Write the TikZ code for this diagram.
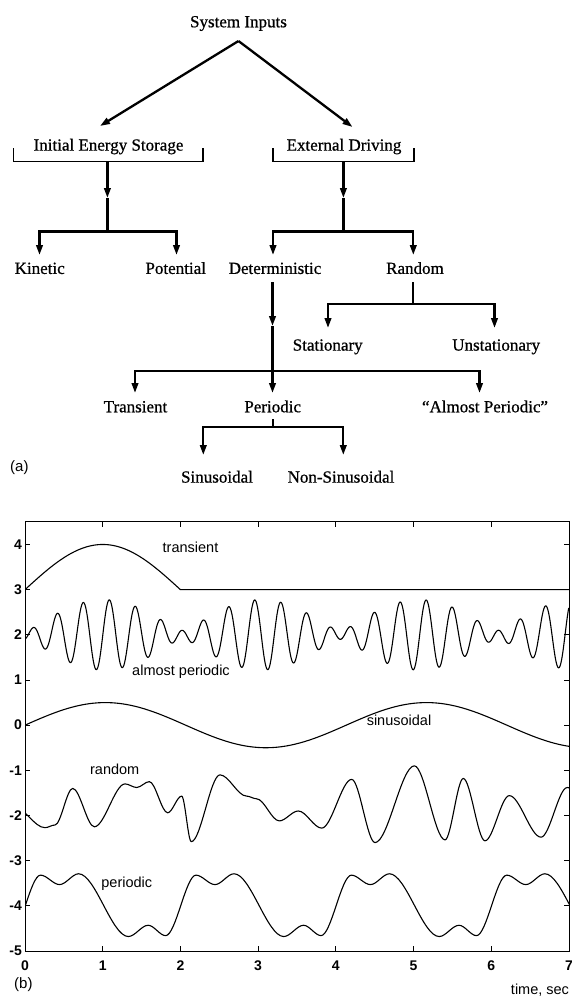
\documentclass[tikz,border=0pt]{standalone}
\usepackage{fontspec}
\setmainfont{Liberation Serif}
\setsansfont{Liberation Sans}
\newfontfamily\treefont{Liberation Serif}[FakeBold=0.7]
\usetikzlibrary{arrows.meta}

\begin{document}
\begin{tikzpicture}[x=1pt,y=-1pt,
  lbl/.style={font=\treefont\fontsize{17}{20}\selectfont, inner sep=0pt, anchor=base},
  conn/.style={line width=2.3pt},
  arr/.style={conn, -{Triangle[length=10pt,width=6.5pt]}},
  brk/.style={line width=1.2pt},
  curvelbl/.style={font=\sffamily\fontsize{14.5}{17}\selectfont, inner sep=0pt, anchor=base},
  panel/.style={font=\sffamily\fontsize{15}{18}\selectfont, inner sep=0pt, anchor=base west},
  ticklbl/.style={font=\sffamily\bfseries\fontsize{14}{16}\selectfont, inner sep=0pt},
  sig/.style={line width=1.1pt, line join=round},
  frame/.style={line width=0.9pt},
]
\useasboundingbox (0,0) rectangle (571,1001);
\fill[white] (0,0) rectangle (571,1001);

% ---------------- (a) classification tree ----------------
\node[lbl] (sys) at (238.5,27.3) {System Inputs};
\node[lbl] (ies) at (108.5,150.6) {Initial Energy Storage};
\node[lbl] (ed)  at (344,150.6) {External Driving};
\node[lbl] (kin) at (39.7,273.9) {Kinetic};
\node[lbl] (pot) at (175.7,273.9) {Potential};
\node[lbl] (det) at (275,273.9) {Deterministic};
\node[lbl] (rnd) at (415,273.9) {Random};
\node[lbl] (sta) at (327.7,350.6) {Stationary};
\node[lbl] (uns) at (496.2,350.6) {Unstationary};
\node[lbl] (tra) at (135.5,412.3) {Transient};
\node[lbl] (per) at (272.7,412.3) {Periodic};
\node[lbl] (alm) at (485,412.3) {“Almost Periodic”};
\node[lbl] (sin) at (217,482.6) {Sinusoidal};
\node[lbl] (nsin) at (341,482.6) {Non-Sinusoidal};

% junction points of the connectors
\coordinate (apex) at (238.5,41);
\coordinate (iesin) at (100,126);
\coordinate (edin) at (352.5,127);
\coordinate (iesb) at (107.4,161.5);
\coordinate (iesm) at (107.4,198);
\coordinate (iesj) at (107.4,231.5);
\coordinate (kintip) at (39.5,255);
\coordinate (pottip) at (176.5,255);
\coordinate (edb) at (343.4,161.5);
\coordinate (edm) at (343.4,198);
\coordinate (edj) at (343.4,231.5);
\coordinate (dettip) at (273,255);
\coordinate (rndtip) at (413.3,255);
\coordinate (detb) at (272.5,282);
\coordinate (detm) at (272.5,326);
\coordinate (detj) at (272.5,371);
\coordinate (tratip) at (135,393);
\coordinate (pertip) at (272.5,393);
\coordinate (almtip) at (479.5,393);
\coordinate (rndb) at (413.3,282);
\coordinate (rndj) at (413.3,304);
\coordinate (statip) at (328,328);
\coordinate (unstip) at (494.5,328);
\coordinate (perb) at (272.7,419.3);
\coordinate (perj) at (272.7,427.3);
\coordinate (sintip) at (203.3,455);
\coordinate (nsintip) at (343.3,455);

\draw[arr] (apex) -- (iesin);
\draw[arr] (apex) -- (edin);

% brackets under the two main headings
\draw[brk] (13.5,148) -- (13.5,161.5) -- (203,161.5) -- (203,148);
\draw[brk] (273,148) -- (273,161.5) -- (414,161.5) -- (414,148);

\draw[arr] (iesb) -- (iesm);
\draw[conn] (iesm) -- (iesj);
\draw[arr] (iesj) -| (kintip);
\draw[arr] (iesj) -| (pottip);

\draw[arr] (edb) -- (edm);
\draw[conn] (edm) -- (edj);
\draw[arr] (edj) -| (dettip);
\draw[arr] (edj) -| (rndtip);

\draw[arr] (detb) -- (detm);
\draw[conn] (detm) -- (detj);
\draw[arr] (detj) -| (tratip);
\draw[arr] (detj) -- (pertip);
\draw[arr] (detj) -| (almtip);

\draw[conn] (rndb) -- (rndj);
\draw[arr] (rndj) -| (statip);
\draw[arr] (rndj) -| (unstip);

\draw[conn] (perb) -- (perj);
\draw[arr] (perj) -| (sintip);
\draw[arr] (perj) -| (nsintip);

\node[panel] (pa) at (10,471) {(a)};

% ---------------- (b) time histories ----------------
\begin{scope}[shift={(25pt,-725.15pt)}, x=77.71pt, y=45.17pt]
  \draw[frame] (0,-5) rectangle (7,4.5);
  \foreach \k in {1,...,6} {
    \draw[frame] (\k,-5) -- ++(0,5pt);
    \draw[frame] (\k,4.5) -- ++(0,-5pt);
  }
  \foreach \v in {-4,...,4} {
    \draw[frame] (0,\v) -- ++(5pt,0);
    \draw[frame] (7,\v) -- ++(-5pt,0);
  }
  \foreach \v in {-5,...,4}
    \node[ticklbl, anchor=east, xshift=-3pt] at (0,\v) {\v};
  \foreach \k in {0,...,7}
    \node[ticklbl, anchor=north, yshift=-10pt] at (\k,-5) {\k};

  \begin{scope}
    \clip (0,-5) rectangle (7,4.5);
    % transient
    \draw[sig] plot[domain=0:2, samples=80] (\x,{3+sin(90*\x)}) -- (7,3);
    % almost periodic
    \draw[sig] plot[domain=0:7, samples=700]
      (\x,{2+0.44*sin(deg(20.04*\x+5.05))-0.34*sin(deg(16.94*\x+5.05))});
    % sinusoidal
    \draw[sig] plot[domain=0:7, samples=120] (\x,{0.5*sin(deg(1.52*\x))});
    % random
    \draw[sig] (-0.15,-1.80)
      foreach \xx/\yy [remember=\xx as \lastx (initially -0.15),
                       remember=\yy as \lasty (initially -1.80)] in
      {0.257/-2.27, 0.386/-2.21, 0.614/-1.40, 0.892/-2.25, 1.287/-1.30,
       1.437/-1.38, 1.600/-1.25, 1.836/-1.94, 2.016/-1.57, 2.14/-2.58,
       2.509/-1.10, 2.85/-1.57, 2.98/-1.63, 3.272/-2.12, 3.517/-1.90,
       3.818/-2.28, 4.204/-1.20, 4.504/-2.60, 5.010/-0.90, 5.405/-2.54,
       5.640/-1.18, 5.919/-2.56, 6.232/-1.56, 6.640/-2.48, 6.978/-1.38,
       7.2/-1.6}
      { .. controls ({(2*(\lastx)+\xx)/3},\lasty) and ({((\lastx)+2*\xx)/3},\yy) .. (\xx,\yy) };
    % periodic
    \draw[sig] (-0.19,-4.66)
      foreach \xx/\yy [remember=\xx as \lastx (initially -0.19),
                       remember=\yy as \lasty (initially -4.66)] in
      {0.20/-3.32, 0.445/-3.53, 0.69/-3.29, 1.33/-4.68, 1.585/-4.43, 1.81/-4.66,
       2.20/-3.32, 2.445/-3.53, 2.69/-3.29, 3.33/-4.68, 3.585/-4.43, 3.81/-4.66,
       4.20/-3.32, 4.445/-3.53, 4.69/-3.29, 5.33/-4.68, 5.585/-4.43, 5.81/-4.66,
       6.20/-3.32, 6.445/-3.53, 6.69/-3.29, 7.33/-4.68}
      { .. controls ({(2*(\lastx)+\xx)/3},\lasty) and ({((\lastx)+2*\xx)/3},\yy) .. (\xx,\yy) };
  \end{scope}
\end{scope}

\node[curvelbl] (ltr) at (190.5,552.2) {transient};
\node[curvelbl] (lap) at (181,675.5) {almost periodic};
\node[curvelbl] (lsn) at (399,725.5) {sinusoidal};
\node[curvelbl] (lrd) at (114.7,774.5) {random};
\node[curvelbl] (lpd) at (126.8,887.2) {periodic};
\node[curvelbl] (ltime) at (540,994.5) {time, sec};
\node[panel] (pb) at (14,988) {(b)};
\end{tikzpicture}
\end{document}
